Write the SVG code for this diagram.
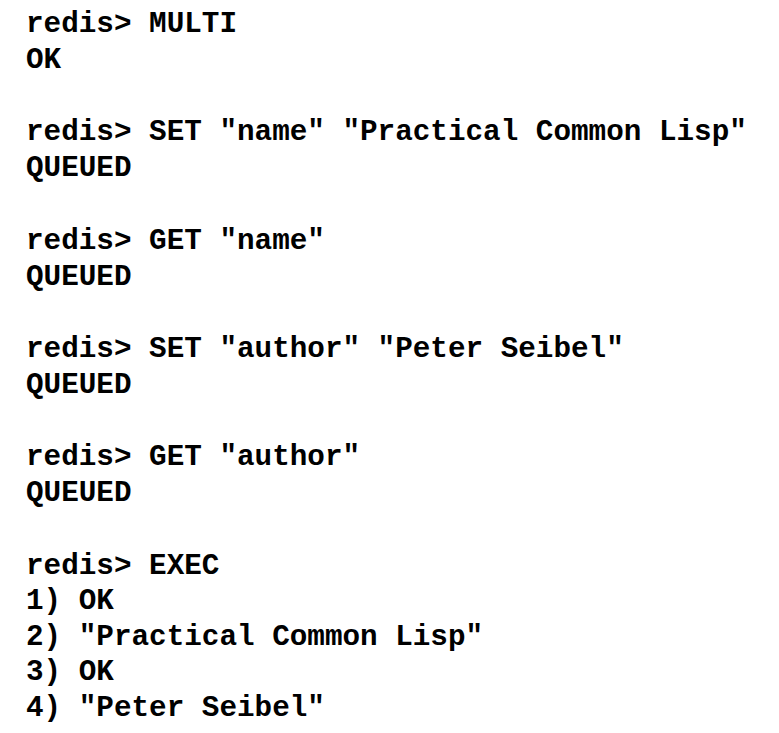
<svg xmlns="http://www.w3.org/2000/svg" width="779" height="733" viewBox="0 0 779 733">
<style>
text{font-family:"Liberation Mono","Courier New",monospace;font-size:29.3px;font-weight:bold;fill:#000;white-space:pre}
</style>
<rect width="779" height="733" fill="#fff"/>
<g id="console" xml:space="preserve">
<text x="26" y="32">redis&gt; MULTI</text>
<text x="26" y="68">OK</text>
<text x="26" y="140">redis&gt; SET "name" "Practical Common Lisp"</text>
<text x="26" y="176">QUEUED</text>
<text x="26" y="249">redis&gt; GET "name"</text>
<text x="26" y="285">QUEUED</text>
<text x="26" y="357">redis&gt; SET "author" "Peter Seibel"</text>
<text x="26" y="393">QUEUED</text>
<text x="26" y="465">redis&gt; GET "author"</text>
<text x="26" y="501">QUEUED</text>
<text x="26" y="574">redis&gt; EXEC</text>
<text x="26" y="609">1) OK</text>
<text x="26" y="645">2) "Practical Common Lisp"</text>
<text x="26" y="680">3) OK</text>
<text x="26" y="716">4) "Peter Seibel"</text>
</g>
</svg>
